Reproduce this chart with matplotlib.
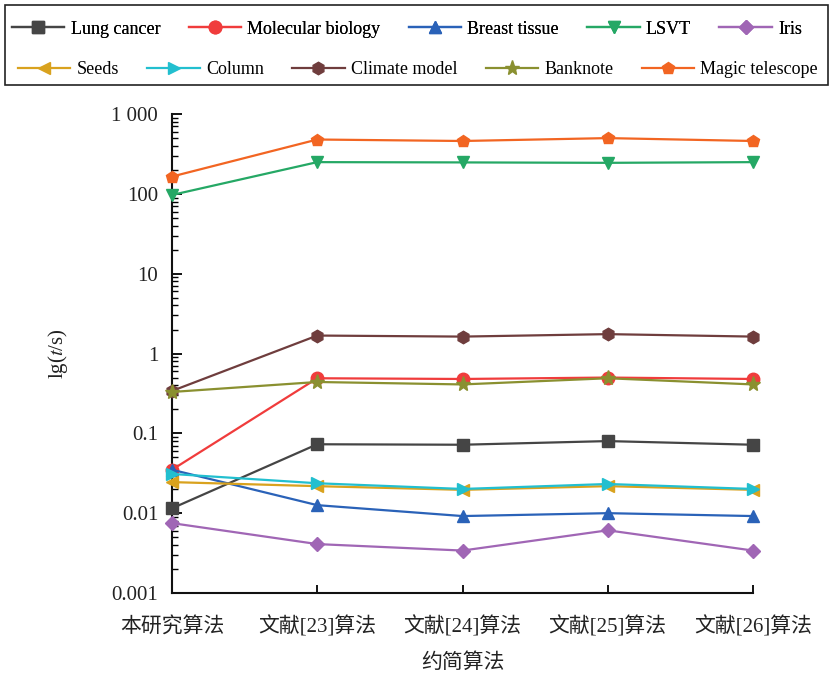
import matplotlib
matplotlib.use("Agg")
import matplotlib.pyplot as plt
from matplotlib.patches import Rectangle
from matplotlib.ticker import FixedLocator, LogLocator, NullFormatter, FixedFormatter

plt.rcParams['font.family'] = ['Liberation Serif', 'Noto Sans CJK SC']
plt.rcParams['mathtext.fontset'] = 'stix'

categories = ["本研究算法", "文献[23]算法", "文献[24]算法", "文献[25]算法", "文献[26]算法"]

lung_cancer = [0.0115, 0.073, 0.072, 0.080, 0.072]
molecular_biology = [0.035, 0.49, 0.48, 0.50, 0.48]
breast_tissue = [0.035, 0.0126, 0.0092, 0.0100, 0.0092]
lsvt = [97, 250, 248, 245, 250]
iris = [0.0075, 0.0041, 0.0034, 0.0061, 0.0034]
seeds = [0.0245, 0.0218, 0.0196, 0.0218, 0.0196]
column = [0.031, 0.0237, 0.0201, 0.0232, 0.0201]
climate_model = [0.34, 1.68, 1.63, 1.75, 1.63]
banknote = [0.33, 0.44, 0.41, 0.49, 0.41]
magic_telescope = [165, 480, 460, 500, 460]

series = [
    ("Lung cancer", lung_cancer, "#454545", "s"),
    ("Molecular biology", molecular_biology, "#f03c3c", "o"),
    ("Breast tissue", breast_tissue, "#2a62b8", "^"),
    ("LSVT", lsvt, "#25a865", "v"),
    ("Iris", iris, "#a066b5", "D"),
    ("Seeds", seeds, "#d9a21e", "<"),
    ("Column", column, "#22bfcf", ">"),
    ("Climate model", climate_model, "#6f3d3d", "h"),
    ("Banknote", banknote, "#8a9030", "*"),
    ("Magic telescope", magic_telescope, "#f26522", "p"),
]

yticks = [0.001, 0.01, 0.1, 1, 10, 100, 1000]
ytick_labels = ["0.001", "0.01", "0.1", "1", "10", "100", "1 000"]

fig = plt.figure(figsize=(8.33, 6.75), dpi=100)
ax = fig.add_axes([0.2065, 0.1215, 0.6975, 0.7095])

x = list(range(len(categories)))
handles = []
for name, vals, color, mk in series:
    ms = 9
    if mk == "D":
        ms = 7.5
    if mk == "*":
        ms = 11
    h, = ax.plot(x, vals, color=color, marker=mk, markersize=ms, linewidth=1.6,
                 label=name, clip_on=False, zorder=3)
    handles.append(h)

ax.set_yscale('log')
ax.set_ylim(0.001, 1000)
ax.set_xlim(0, 4)
ax.yaxis.set_major_locator(FixedLocator(yticks))
ax.yaxis.set_major_formatter(FixedFormatter(ytick_labels))
ax.yaxis.set_minor_locator(LogLocator(base=10, subs=range(2, 10), numticks=20))
ax.yaxis.set_minor_formatter(NullFormatter())
ax.set_xticks(x)
ax.set_xticklabels(categories)

for s in ['top', 'right']:
    ax.spines[s].set_visible(False)
for s in ['left', 'bottom']:
    ax.spines[s].set_linewidth(1.5)
    ax.spines[s].set_color('#111111')

ax.tick_params(axis='y', which='major', direction='in', length=7, width=1.3, labelsize=15, pad=10)
ax.tick_params(axis='y', which='minor', direction='in', length=4, width=1.0)
ax.tick_params(axis='x', which='major', direction='in', length=6, width=1.3, labelsize=15, pad=17)
for lbl in ax.get_xticklabels():
    lbl.set_color('#222222')
for lbl in ax.get_yticklabels():
    lbl.set_color('#222222')

ax.set_ylabel("lg($t$/s)", fontsize=15, labelpad=30, color='#222222')
ax.set_xlabel("约简算法", fontsize=15, labelpad=11, color='#222222')

# Legend: two rows, flow-like, inside one frame
W, H = 833.0, 675.0
row1 = fig.legend(handles[:5], [s[0] for s in series[:5]],
                  loc='center', bbox_to_anchor=(12 / W, 1 - 42 / H, 790 / W, 26 / H),
                  mode='expand', ncol=5, fontsize=13, frameon=False,
                  handlelength=2.9, handletextpad=0.35, columnspacing=1.0,
                  borderaxespad=0.0, borderpad=0.0)
row2 = fig.legend(handles[5:], [s[0] for s in series[5:]],
                  loc='center', bbox_to_anchor=(18 / W, 1 - 83 / H, 800 / W, 26 / H),
                  mode='expand', ncol=5, fontsize=13, frameon=False,
                  handlelength=2.9, handletextpad=0.35, columnspacing=1.0,
                  borderaxespad=0.0, borderpad=0.0)
fig.add_artist(row1)
fig.add_artist(Rectangle((5 / W, 1 - 85 / H), 823 / W, 80 / H, transform=fig.transFigure,
                         fill=False, edgecolor='#222222', linewidth=1.2))

fig.savefig("out.png", dpi=100)
